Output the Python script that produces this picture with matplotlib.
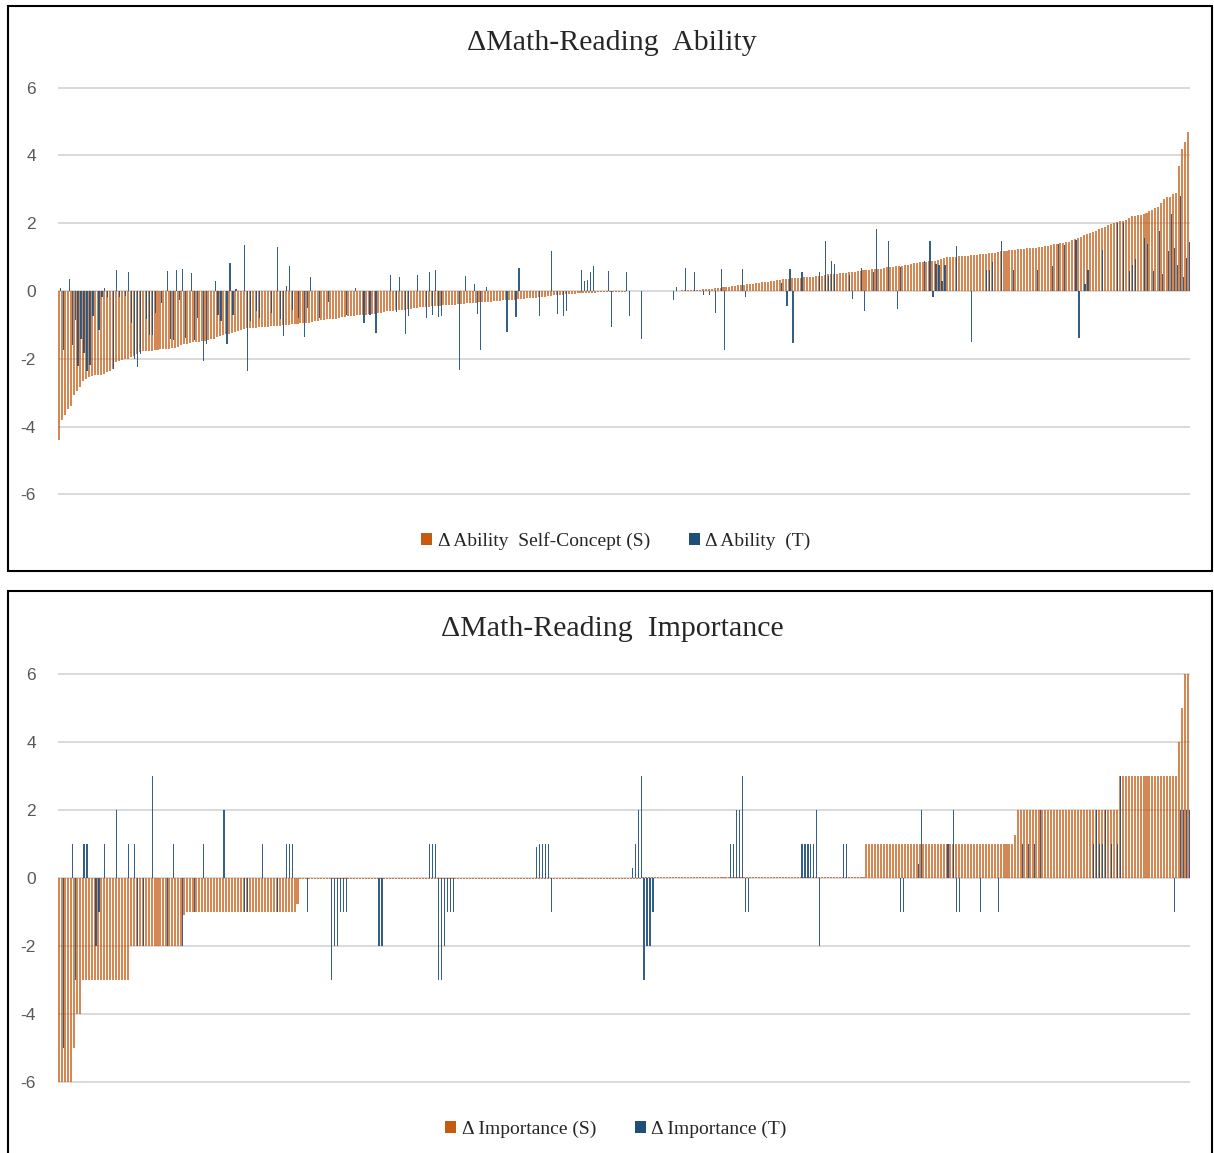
import numpy as np
import matplotlib
matplotlib.use("Agg")
import matplotlib.pyplot as plt
from matplotlib.patches import Patch, Rectangle

# ---------------- data ----------------
ability_s = [
    -4.4, -3.8, -3.66, -3.47, -3.4, -3.07, -2.96, -2.84, -2.67, -2.6, -2.55,
    -2.5, -2.48, -2.47, -2.47, -2.45, -2.4,
    -2.35, -2.3,
    -2.1, -2.06, -2.05, -2.02, -2.0,
    -1.95, -1.91, -1.85, -1.81,
    -1.78, -1.77, -1.77, -1.76, -1.75,
    -1.73, -1.72, -1.72, -1.71, -1.7, -1.68,
    -1.67, -1.65, -1.6, -1.57, -1.55,
    -1.52, -1.5, -1.5, -1.5, -1.49, -1.48,
    -1.45, -1.43, -1.42, -1.36, -1.33, -1.3,
    -1.28, -1.27, -1.25, -1.2, -1.18,
    -1.15, -1.12, -1.1, -1.09, -1.09, -1.08,
    -1.07, -1.06, -1.05, -1.05, -1.04, -1.04, -1.03,
    -1.02, -1.01, -1.0, -0.99, -0.98, -0.97,
    -0.96, -0.95, -0.94, -0.94, -0.93, -0.92,
    -0.9, -0.88, -0.86, -0.85, -0.84, -0.84, -0.83,
    -0.82, -0.8, -0.78, -0.76, -0.74, -0.73, -0.73, -0.72,
    -0.71, -0.7, -0.7, -0.69, -0.68, -0.67, -0.66, -0.65,
    -0.62, -0.6, -0.59, -0.58, -0.57, -0.56, -0.55, -0.55,
    -0.54, -0.52, -0.5, -0.49, -0.48, -0.47, -0.46,
    -0.46, -0.45, -0.45, -0.44, -0.43, -0.42, -0.42, -0.41,
    -0.41, -0.4, -0.39, -0.38, -0.37, -0.36, -0.36, -0.35, -0.34,
    -0.33, -0.32, -0.32, -0.31, -0.31, -0.3, -0.3, -0.29, -0.28,
    -0.27, -0.27, -0.26, -0.26, -0.25, -0.24, -0.23,
    -0.22, -0.21, -0.21, -0.2, -0.19, -0.18, -0.17,
    -0.15, -0.14, -0.13, -0.12, -0.12, -0.11, -0.1, -0.1, -0.09, -0.08,
    -0.07, -0.07, -0.06, -0.06, -0.05, -0.05, -0.05, -0.04, -0.04, -0.04, -0.03,
    -0.03, -0.03, -0.02, -0.02, -0.02, -0.02, -0.01, -0.01, -0.01, -0.01, -0.01,
    0, 0, 0, 0, 0, 0, 0, 0, 0, 0,
    0.01, 0.01, 0.01, 0.02, 0.02, 0.02, 0.03,
    0.03, 0.04, 0.04, 0.05, 0.05, 0.06, 0.07,
    0.08, 0.09, 0.1, 0.11, 0.12, 0.13, 0.15, 0.16,
    0.17, 0.18, 0.19, 0.2, 0.21,
    0.22, 0.23, 0.25, 0.26, 0.27,
    0.28, 0.29, 0.3, 0.31, 0.33, 0.34,
    0.35, 0.36, 0.37, 0.38, 0.38, 0.39, 0.4,
    0.41, 0.42, 0.42, 0.43, 0.44, 0.45, 0.47, 0.49, 0.5,
    0.5, 0.51, 0.52, 0.53, 0.54, 0.55, 0.56,
    0.57, 0.58, 0.6, 0.61, 0.62,
    0.63, 0.64, 0.64, 0.65, 0.66, 0.68, 0.7,
    0.71, 0.72, 0.73, 0.74, 0.75,
    0.76, 0.78, 0.8, 0.82, 0.84, 0.85, 0.86, 0.87, 0.88,
    0.89, 0.9, 0.92, 0.95, 0.98, 1.0,
    1.0, 1.01, 1.01, 1.02, 1.02, 1.03,
    1.04, 1.05, 1.06, 1.07, 1.08, 1.09,
    1.1, 1.11, 1.12, 1.13, 1.15, 1.17,
    1.18, 1.19, 1.2, 1.21, 1.22, 1.23,
    1.24, 1.25, 1.26, 1.27, 1.28, 1.28,
    1.29, 1.3, 1.32, 1.34, 1.36, 1.38,
    1.4, 1.41, 1.42, 1.44, 1.46, 1.5,
    1.53, 1.57, 1.6, 1.65, 1.69,
    1.72, 1.75, 1.78, 1.82, 1.86,
    1.9, 1.94, 1.98, 2.0, 2.03,
    2.06, 2.08, 2.1, 2.15, 2.2,
    2.22, 2.23, 2.24, 2.26, 2.3,
    2.35, 2.38, 2.45, 2.48,
    2.6, 2.72, 2.76, 2.78, 2.85, 2.88, 3.7, 4.2, 4.4, 4.7,
]

# teacher ratings: (student index, value); all other students are 0
ability_t_points = [
    (0, 0.08), (1, -1.73), (3, 0.34), (4, -1.6), (5, -0.85), (6, -2.2), (7, -1.43),
    (8, -1.82), (9, -2.36), (10, -2.17), (11, -0.75), (13, -1.16), (14, -0.17),
    (15, 0.1), (16, -0.17), (18, -2.3), (19, 0.61), (20, -0.17), (22, -0.15),
    (23, 0.55), (24, -0.93), (25, -2.0), (26, -2.24), (27, -1.87), (29, -0.83),
    (30, -1.29), (31, -1.29), (32, -0.65), (34, -0.36), (36, 0.59), (37, -1.43),
    (38, -1.45), (39, 0.63), (40, -0.26), (41, 0.66), (42, -1.4), (44, 0.53),
    (45, -1.45), (46, -0.8), (48, -2.06), (49, -1.57), (52, 0.29), (53, -0.7),
    (54, -0.9), (56, -1.55), (57, 0.83), (58, -0.7), (59, 0.06), (62, 1.37),
    (63, -2.35), (64, -0.9), (66, -0.6), (67, -0.8), (71, -0.65), (73, 1.31),
    (74, -0.84), (75, -1.33), (76, 0.15), (77, 0.74), (78, -0.55), (80, -0.8),
    (82, -1.36), (83, -0.5), (84, 0.42), (87, -0.8), (90, -0.31), (96, -0.7),
    (99, 0.1), (102, -0.94), (104, -0.7), (106, -1.25), (111, 0.47), (113, -0.63),
    (114, 0.4), (116, -1.28), (117, -0.75), (120, 0.47), (123, -0.8), (124, 0.56),
    (125, -0.7), (126, 0.63), (127, -0.77), (128, -0.75), (134, -2.33), (136, 0.44),
    (139, 0.22), (140, -0.67), (141, -1.74), (143, 0.13), (150, -1.21), (153, -0.77),
    (154, 0.69), (161, -0.75), (165, 1.19), (167, -0.67), (169, -0.73), (170, -0.6),
    (175, 0.63), (176, 0.29), (177, 0.32), (178, 0.56), (179, 0.73), (184, 0.59),
    (185, -1.06), (190, 0.56), (191, -0.73), (195, -1.43), (206, -0.28), (207, 0.13),
    (210, 0.69), (213, 0.56), (216, -0.12), (218, -0.12), (220, -0.65), (222, 0.64),
    (223, -1.74), (229, 0.66), (230, -0.17), (242, 0.25), (244, -0.43), (245, 0.66),
    (246, -1.53), (249, 0.57), (255, 0.57), (257, 1.47), (258, 0.44), (259, 0.9),
    (260, 0.79), (265, 0.47), (266, -0.24), (269, 0.69), (270, -0.59), (273, 0.55),
    (274, 1.83), (278, 1.47), (281, -0.54), (282, 0.71), (290, 0.88), (292, 1.47),
    (293, -0.19), (294, 0.79), (295, 0.76), (296, 0.3), (297, 0.76), (301, 1.32),
    (306, -1.5), (311, 0.61), (312, 0.61), (313, 0.86), (316, 1.49), (320, 0.61),
    (328, 0.61), (333, 0.74), (335, 1.38), (337, 1.35), (341, 1.5), (342, -1.4),
    (344, 0.22), (345, 0.61), (350, 1.22), (355, 2.0), (357, 2.0), (359, 0.6),
    (360, 0.76), (361, 0.93), (364, 1.57), (365, 1.38), (367, 0.6), (369, 1.76),
    (370, 0.5), (372, 1.18), (373, 2.27), (374, 1.28), (375, 0.76), (376, 2.81),
    (377, 0.42), (378, 0.96), (379, 1.45),
]

# importance (S): run-length pairs (value, number of students), sorted
importance_s_runs = [
    (-6, 5), (-5, 1), (-4, 2), (-3, 16), (-2, 18), (-1.1, 1), (-1, 37), (-0.75, 1),
    (-0.03, 115), (0.03, 75), (1, 50), (1.25, 1), (2, 34), (3, 20), (4, 1), (5, 1), (6, 2),
]

importance_t_points = [
    (1, -5), (4, 1), (5, -3), (8, 1), (9, 1), (12, -2), (13, -1), (15, 1), (19, 2),
    (23, 1), (25, 1), (26, -2), (28, -2), (31, 3), (36, -2), (38, 1), (41, -2),
    (45, -1), (48, 1), (55, 2), (62, -1), (63, -1), (68, 1), (73, -1), (76, 1),
    (77, 1), (78, 1), (83, -1), (91, -3), (92, -2), (93, -2), (94, -1), (95, -1),
    (96, -1), (107, -2), (108, -2), (124, 1), (125, 1), (126, 1), (127, -3),
    (128, -3), (129, -2), (130, -1), (131, -1), (132, -1), (160, 0.9), (161, 1),
    (162, 1), (163, 1), (164, 1), (165, -1), (192, 0.3), (193, 1), (194, 2),
    (195, 3), (196, -3), (197, -2), (198, -2), (199, -1), (225, 1), (226, 1),
    (227, 2), (228, 2), (229, 3), (230, -1), (231, -1), (249, 1), (250, 1),
    (251, 1), (252, 1), (253, 1), (254, 2), (255, -2), (263, 1), (264, 1),
    (282, -1), (283, -1), (288, 0.4), (289, 2), (298, 1), (300, 2), (301, -1),
    (302, -1), (309, -1), (315, -1), (323, 1), (325, 1), (327, 1), (329, 2),
    (347, 1), (348, 2), (349, 1), (350, 1), (351, 2), (353, 1), (355, 1), (356, 3),
    (374, -1), (376, 2), (377, 2), (378, 2), (379, 2),
]

titles = ["\u0394Math-Reading  Ability", "\u0394Math-Reading  Importance"]
legend_labels = [["\u0394 Ability  Self-Concept (S)", "\u0394 Ability  (T)"],
                 ["\u0394 Importance (S)", "\u0394 Importance (T)"]]
yticks = [-6, -4, -2, 0, 2, 4, 6]

# ---------------- build series ----------------
def expand_points(points, n):
    arr = np.zeros(n)
    for i, v in points:
        if 0 <= i < n:
            arr[i] = v
    return arr

imp_s = []
for v, c in importance_s_runs:
    imp_s += [v] * c
imp_s = np.array(imp_s)
abil_s = np.array(ability_s)
abil_t = expand_points(ability_t_points, len(abil_s))
imp_t = expand_points(importance_t_points, len(imp_s))

ORANGE = "#C55A11"
BLUE = "#1F4E79"
GRID = "#D9D9D9"

W, H = 1214, 1153
fig = plt.figure(figsize=(W / 100, H / 100), dpi=100)

def fx(px):
    return px / W

def fy(py):
    return 1 - py / H

# panel borders
fig.patches.append(Rectangle((fx(8), fy(571)), fx(1212) - fx(8), fy(6) - fy(571),
                             transform=fig.transFigure, fill=False, edgecolor="black", linewidth=1.5))
fig.patches.append(Rectangle((fx(8), fy(1160)), fx(1212) - fx(8), fy(591) - fy(1160),
                             transform=fig.transFigure, fill=False, edgecolor="black", linewidth=1.5))

panels = [
    (abil_s, abil_t, 86, 496, 42, 541),
    (imp_s, imp_t, 672, 1084, 628, 1129),
]

for k, (s, t, ytop, ybot, ytitle, yleg) in enumerate(panels):
    ax = fig.add_axes([fx(58), fy(ybot), fx(1190) - fx(58), fy(ytop) - fy(ybot)])
    n = len(s)
    x = np.arange(n)
    ax.bar(x - 0.1, s, width=0.68, color=ORANGE, alpha=0.72, linewidth=0, zorder=2)
    ax.bar(x + 0.24, t, width=0.40, color=BLUE, alpha=0.9, linewidth=0, zorder=3)
    ax.set_xlim(-0.5, n - 0.5)
    ax.set_ylim(-6.05, 6.05)
    ax.set_yticks(yticks)
    ax.set_yticklabels([str(v) for v in yticks], fontsize=12.5, color="#595959",
                       family=["Liberation Sans", "DejaVu Sans"])
    ax.tick_params(axis="y", length=0, pad=16)
    ax.set_xticks([])
    ax.yaxis.grid(True, color=GRID, linewidth=1.4, zorder=0)
    ax.set_axisbelow(True)
    for sp in ax.spines.values():
        sp.set_visible(False)
    fig.text(fx(612), fy(ytitle + 1), titles[k], ha="center", va="center", fontsize=21.5,
             family=["Liberation Serif", "DejaVu Serif"], color="#262626")
    handles = [Patch(facecolor=ORANGE, edgecolor="none", label=legend_labels[k][0]),
               Patch(facecolor=BLUE, edgecolor="none", label=legend_labels[k][1])]
    fig.legend(handles=handles, loc="center", bbox_to_anchor=(fx(616), fy(yleg)), ncol=2,
               frameon=False, prop={"family": ["Liberation Serif", "DejaVu Serif"], "size": 14},
               handlelength=0.55, handleheight=0.55, handletextpad=0.3, columnspacing=2.0,
               labelcolor="#262626")

fig.savefig("out.png", dpi=100)
